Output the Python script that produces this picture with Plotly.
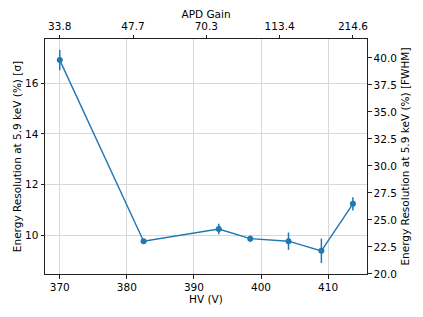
import numpy as np
import plotly.graph_objects as go

hv = np.array([370.0, 382.5, 393.7, 398.4, 404.1, 409.0, 413.7])
res_sigma = np.array([16.9, 9.78, 10.26, 9.88, 9.78, 9.40, 11.25])
err_sigma = np.array([0.40, 0.08, 0.21, 0.12, 0.34, 0.48, 0.26])
gain_labels = ['33.8', '47.7', '70.3', '113.4', '214.6']

fwhm = 2.355
c0 = '#1f77b4'
font = dict(family='DejaVu Sans', size=10.5, color='black')

xr = [367.8, 415.8]
yr = [8.49, 17.73]

fig = go.Figure()
fig.add_trace(go.Scatter(x=hv, y=res_sigma, mode='lines+markers',
                         line=dict(color=c0, width=1.4),
                         marker=dict(color=c0, size=6),
                         error_y=dict(type='data', array=err_sigma, color=c0,
                                      thickness=1.5, width=0),
                         showlegend=False))
# invisible trace so the top / right axes get drawn
fig.add_trace(go.Scatter(x=hv, y=res_sigma * fwhm, xaxis='x2', yaxis='y2',
                         mode='markers', marker=dict(opacity=0),
                         hoverinfo='skip', showlegend=False))

top_ticks = np.linspace(hv.min(), hv.max(), len(gain_labels))

axis_common = dict(showline=True, linecolor='#222222', linewidth=1,
                   ticks='outside', ticklen=3.5, tickwidth=1, tickcolor='#222222',
                   tickfont=font, zeroline=False, automargin=False)

# the page body has an 8px margin, so the figure is 8px smaller and offset
fig.update_layout(
    template='none',
    width=415, height=309,
    margin=dict(l=37, r=56, t=31, b=43),
    paper_bgcolor='white', plot_bgcolor='white',
    font=font,
    xaxis=dict(range=xr, tickvals=[370, 380, 390, 400, 410],
               showgrid=True, gridcolor='#d8d8d8', gridwidth=1.4,
               title=dict(text='HV (V)', font=font, standoff=1),
               **axis_common),
    xaxis2=dict(range=xr, overlaying='x', side='top', anchor='y',
                tickvals=top_ticks, ticktext=gain_labels, showgrid=False,
                title=dict(text='APD Gain', font=font, standoff=0),
                **axis_common),
    yaxis=dict(range=yr, tickvals=[10, 12, 14, 16],
               showgrid=True, gridcolor='#d8d8d8', gridwidth=1.4,
               title=dict(text='Energy Resolution at 5.9 keV (%) [σ]', font=font, standoff=1),
               **axis_common),
    yaxis2=dict(range=[yr[0] * fwhm, yr[1] * fwhm], overlaying='y', side='right', anchor='x',
                tickvals=[20, 22.5, 25, 27.5, 30, 32.5, 35, 37.5, 40], tickformat='.1f',
                showgrid=False,
                title=dict(text='Energy Resolution at 5.9 keV (%) [FWHM]', font=font, standoff=5),
                **axis_common),
)

fig.write_html("out.html")
